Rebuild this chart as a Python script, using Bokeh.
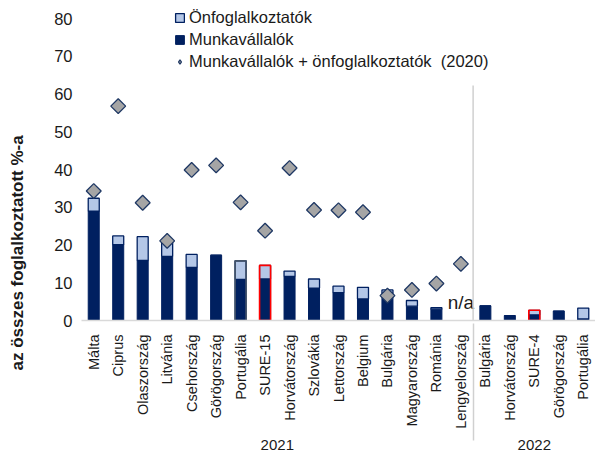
import numpy as np
from bokeh.plotting import figure
from bokeh.models import FactorRange, ColumnDataSource, Legend, LegendItem, Title, FixedTicker
from bokeh.embed import file_html
from bokeh.resources import INLINE
from bokeh.core.properties import value

nan = np.nan

# ---- data ----
years = ["2021"] * 16 + ["2022"] * 5
countries = ["Málta", "Ciprus", "Olaszország", "Litvánia", "Csehország", "Görögország",
             "Portugália", "SURE-15", "Horvátország", "Szlovákia", "Lettország", "Belgium",
             "Bulgária", "Magyarország", "Románia", "Lengyelország",
             "Bulgária", "Horvátország", "SURE-4", "Görögország", "Portugália"]
munkavallalok = [29.0, 20.1, 15.9, 17.0, 14.1, 17.3, 10.9, 11.0, 11.7, 8.6, 7.4, 5.7,
                 7.3, 3.8, 3.0, nan, 3.9, 1.3, 1.5, 2.5, 0.4]
onfoglalkoztatok = [3.4, 2.3, 6.3, 3.6, 3.4, 0.0, 4.9, 3.6, 1.4, 2.4, 1.7, 3.1,
                    0.8, 1.5, 0.4, nan, 0.0, 0.0, 1.2, 0.0, 2.9]
osszes_2020 = [34.3, 56.8, 31.2, 21.1, 39.9, 41.1, 31.3, 23.8, 40.4, 29.3, 29.2, 28.7,
               6.6, 8.1, 9.8, 15.0, nan, nan, nan, nan, nan]
y_ticks = [0, 10, 20, 30, 40, 50, 60, 70, 80]
na_country = ("2021", "Lengyelország")
na_text = "n/a"
na_y = 4.7

legend_labels = ["Önfoglalkoztatók", "Munkavállalók",
                 "Munkavállalók + önfoglalkoztatók  (2020)"]
y_title = "az összes foglalkoztatott %-a"

# ---- styles ----
NAVY = "#002060"
LIGHT = "#b4c7e7"
GRAY = "#a5a5a5"
DIA_LINE = "#1f3864"
FONT = "Liberation Sans"

factors = list(zip(years, countries))
emp = np.array(munkavallalok, dtype=float)
selfemp = np.array(onfoglalkoztatok, dtype=float)
total = emp + selfemp

src = ColumnDataSource(dict(x=factors, emp=emp, total=total,
                            prev=np.array(osszes_2020, dtype=float)))

# highlighted outlines (SURE aggregates red, Portugália 2021 grey-blue)
hl_idx = [i for i, c in enumerate(countries) if c.startswith("SURE")] + [6]
hl_col = ["#ff0000" if countries[i].startswith("SURE") else "#44546a" for i in hl_idx]
hl_src = ColumnDataSource(dict(x=[factors[i] for i in hl_idx],
                               total=[total[i] for i in hl_idx],
                               col=hl_col))

xr = FactorRange(*factors, factor_padding=0, group_padding=0, subgroup_padding=0,
                 range_padding=0)

# headroom above 80 keeps the legend inside the plotting frame
p = figure(x_range=xr, y_range=(0, 84), width=595, height=454,
           output_backend="svg", toolbar_location=None,
           min_border_left=81, min_border_right=0, min_border_top=3,
           min_border_bottom=134)
p.outline_line_color = None
p.xgrid.visible = False
p.ygrid.visible = False
p.background_fill_color = "white"

W = 0.45
dark = p.vbar(x="x", top="emp", bottom=0, width=W, source=src,
              fill_color=NAVY, line_color=NAVY, line_width=1)
light = p.vbar(x="x", bottom="emp", top="total", width=W, source=src,
               fill_color=LIGHT, line_color=NAVY, line_width=1.3)
p.vbar(x="x", bottom=0, top="total", width=W, source=hl_src,
       fill_color=None, line_color="col", line_width=1.6)
p.scatter(x="x", y="prev", source=src, marker="square", angle=np.pi / 4,
          size=10.5, fill_color=GRAY, line_color=DIA_LINE, line_width=1.3)
# legend stand-in for the diamonds (legend glyphs ignore marker angle)
dia_leg = p.scatter(x=[factors[0]], y=[nan], marker="diamond", size=14,
                    fill_color=GRAY, line_color=DIA_LINE, line_width=1.3)

p.text(x=[na_country], y=[na_y], text=[na_text], text_align="center",
       text_baseline="middle", text_font=value(FONT), text_font_size="19px",
       text_color="#1a1a1a")

# group separator inside plot area
p.segment(x0=[16], y0=[0], x1=[16], y1=[62.3], line_color="#d0d0d0", line_width=1.5)

# y axis
ya = p.yaxis[0]
ya.ticker = FixedTicker(ticks=y_ticks)
ya.axis_line_color = None
ya.major_tick_line_color = None
ya.minor_tick_line_color = None
ya.major_label_text_font = FONT
ya.major_label_text_font_size = "16.5px"
ya.major_label_text_color = "#1a1a1a"
ya.major_label_standoff = 3
# spacer so that the title sits at the far left
ya.axis_label = " "
ya.axis_label_text_font_size = "1px"
ya.axis_label_standoff = 16

# x axis
xa = p.xaxis[0]
xa.axis_line_color = "#d9d9d9"
xa.axis_line_width = 1.5
xa.major_tick_line_color = None
xa.minor_tick_line_color = None
xa.major_label_orientation = np.pi / 2
xa.major_label_text_font = FONT
xa.major_label_text_font_size = "14.5px"
xa.major_label_text_color = "#1a1a1a"
xa.major_label_standoff = 8
xa.group_text_font = FONT
xa.group_text_font_size = "15px"
xa.group_text_font_style = "normal"
xa.group_text_color = "#1a1a1a"
xa.separator_line_color = "#d0d0d0"
xa.separator_line_width = 1.5

# y title
p.add_layout(Title(text=y_title, align="left", offset=-50,
                   text_font=FONT, text_font_size="17px", text_font_style="bold",
                   text_color="#1a1a1a"), "left")

legend = Legend(items=[LegendItem(label=legend_labels[0], renderers=[light]),
                       LegendItem(label=legend_labels[1], renderers=[dark]),
                       LegendItem(label=legend_labels[2], renderers=[dia_leg])],
                location=(93, 249), orientation="vertical",
                background_fill_alpha=0, border_line_color=None,
                label_text_font=FONT, label_text_font_size="16.5px",
                label_text_color="#1a1a1a",
                glyph_width=11, glyph_height=11, label_height=17, spacing=3,
                label_standoff=4, padding=0, margin=0)
p.add_layout(legend)

open("out.html", "w").write(file_html(p, INLINE))
